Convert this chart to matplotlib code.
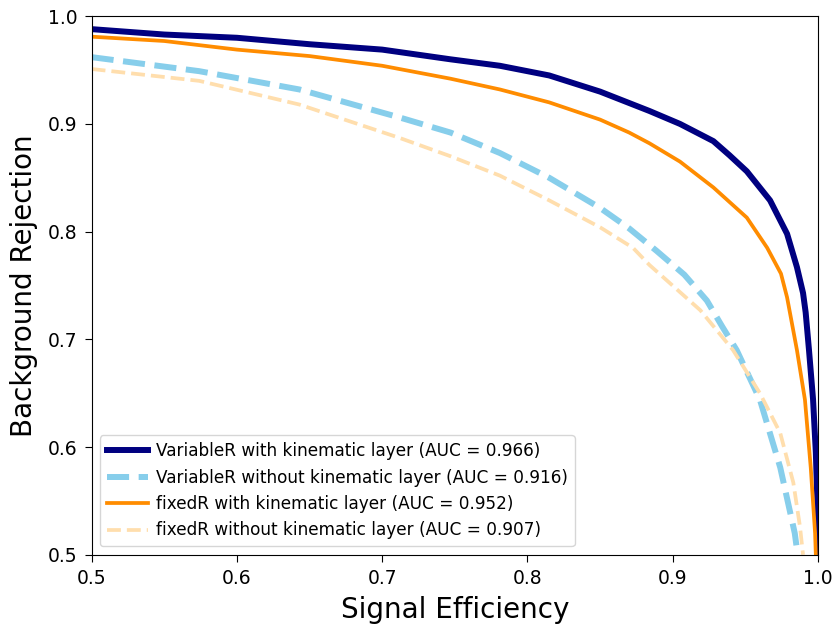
import numpy as np
import matplotlib.pyplot as plt

# ROC curves
var_kin_x = [0.5, 0.55, 0.6, 0.65, 0.7, 0.747, 0.781, 0.815, 0.85, 0.884, 0.905, 0.928, 0.939,
             0.951, 0.967, 0.9787, 0.9855, 0.9897, 0.9915, 0.9938, 0.9966, 0.9985, 0.9995, 1.0]
var_kin_y = [0.988, 0.983, 0.980, 0.974, 0.969, 0.960, 0.954, 0.945, 0.930, 0.912, 0.900, 0.884, 0.871,
             0.856, 0.829, 0.798, 0.767, 0.743, 0.725, 0.690, 0.644, 0.595, 0.551, 0.5]

var_nokin_x = [0.5, 0.574, 0.643, 0.712, 0.747, 0.781, 0.815, 0.85, 0.870, 0.889, 0.908, 0.9235,
               0.934, 0.944, 0.960, 0.974, 0.984, 0.986]
var_nokin_y = [0.962, 0.949, 0.932, 0.906, 0.892, 0.873, 0.850, 0.822, 0.803, 0.782, 0.760, 0.736,
               0.712, 0.690, 0.644, 0.581, 0.520, 0.5]

fix_kin_x = [0.5, 0.55, 0.6, 0.65, 0.7, 0.747, 0.781, 0.815, 0.85, 0.870, 0.884, 0.905,
             0.928, 0.951, 0.965, 0.9745, 0.9787, 0.9855, 0.991, 0.995, 0.998, 0.9985]
fix_kin_y = [0.981, 0.977, 0.969, 0.963, 0.954, 0.942, 0.932, 0.920, 0.904, 0.892, 0.882, 0.865,
             0.841, 0.813, 0.785, 0.761, 0.739, 0.690, 0.644, 0.581, 0.520, 0.5]

fix_nokin_x = [0.5, 0.574, 0.643, 0.712, 0.747, 0.781, 0.815, 0.85, 0.8726, 0.884,
               0.919, 0.9415, 0.960, 0.974, 0.983, 0.9876, 0.9897]
fix_nokin_y = [0.951, 0.940, 0.918, 0.887, 0.870, 0.852, 0.829, 0.804, 0.785, 0.769,
               0.727, 0.690, 0.650, 0.613, 0.567, 0.526, 0.5]

labels = [
    "VariableR with kinematic layer (AUC = 0.966)",
    "VariableR without kinematic layer (AUC = 0.916)",
    "fixedR with kinematic layer (AUC = 0.952)",
    "fixedR without kinematic layer (AUC = 0.907)",
]

fig = plt.figure(figsize=(8.33, 6.24), dpi=100)
ax = fig.add_axes([0.110, 0.111, 0.872, 0.863])

ax.plot(var_kin_x, var_kin_y, color="navy", lw=4.3, label=labels[0])
ax.plot(var_nokin_x, var_nokin_y, color="skyblue", lw=4.3, ls="--", label=labels[1])
ax.plot(fix_kin_x, fix_kin_y, color="darkorange", lw=2.7, label=labels[2])
ax.plot(fix_nokin_x, fix_nokin_y, color="navajowhite", lw=2.7, ls="--", label=labels[3])

ax.set_xlim(0.5, 1.0)
ax.set_ylim(0.5, 1.0)
ax.set_xticks(np.arange(0.5, 1.01, 0.1))
ax.set_yticks(np.arange(0.5, 1.01, 0.1))
ax.tick_params(labelsize=13.5, length=5, pad=5)
ax.set_xlabel("Signal Efficiency", fontsize=20, labelpad=6)
ax.set_ylabel("Background Rejection", fontsize=20, labelpad=7.5)
ax.legend(loc="lower left", fontsize=12.2, handlelength=2.4, handletextpad=0.5)

plt.savefig("out.png", dpi=100)
